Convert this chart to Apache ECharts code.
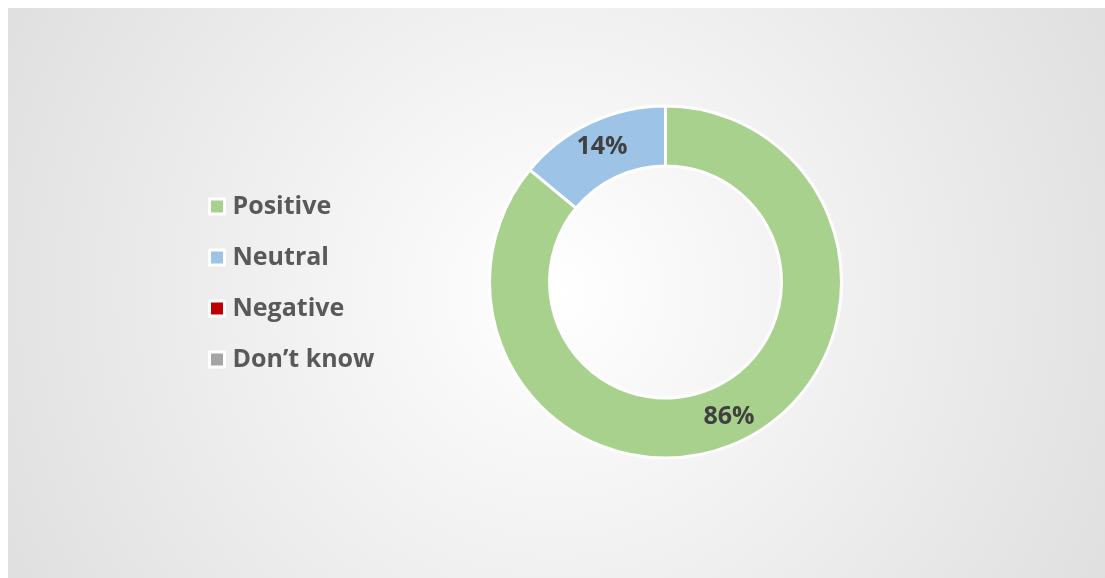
<!DOCTYPE html>
<html>
<head>
<meta charset="utf-8">
<script src="https://cdn.jsdelivr.net/npm/echarts@6/dist/echarts.min.js"></script>
<style>
html,body{margin:0;padding:0;background:#fff;}
#c{width:1105px;height:578px;}
</style>
</head>
<body>
<div id="c"></div>
<script>
const categories = ['Positive', 'Neutral', 'Negative', 'Don\u2019t know'];
const values = [86, 14, 0, 0];
const colors = ['#a9d18e', '#9dc3e6', '#c00000', '#a5a5a5'];

const chart = echarts.init(document.getElementById('c'), null, {renderer: 'canvas'});
const data = categories.map((name, i) => ({name: name, value: values[i], itemStyle: {color: colors[i]}}));

chart.setOption({
  animation: false,
  graphic: [{
    type: 'rect',
    z: -10,
    silent: true,
    shape: {x: 8, y: 8, width: 1097, height: 570},
    style: {
      fill: new echarts.graphic.RadialGradient(0.5, 0.5, 1.1, [
        {offset: 0, color: '#ffffff'},
        {offset: 1, color: '#e0dfe0'}
      ])
    }
  }],
  legend: {
    orient: 'vertical',
    left: 203,
    top: 189,
    itemWidth: 15,
    itemHeight: 15,
    itemGap: 26,
    icon: 'rect',
    selectedMode: false,
    itemStyle: {borderColor: '#ffffff', borderWidth: 3},
    textStyle: {
      fontFamily: 'Open Sans',
      fontWeight: 'bold',
      fontSize: 25,
      color: '#595959',
      padding: [0, 0, 0, 3]
    },
    data: categories
  },
  series: [{
    type: 'pie',
    center: [665.5, 282],
    radius: [116, 176],
    startAngle: 90,
    clockwise: true,
    avoidLabelOverlap: false,
    label: {
      show: true,
      position: 'inside',
      formatter: p => p.value > 0 ? p.value + '%' : '',
      fontFamily: 'Open Sans',
      fontWeight: 'bold',
      fontSize: 25,
      color: '#404040'
    },
    labelLine: {show: false},
    itemStyle: {borderColor: '#ffffff', borderWidth: 3},
    emphasis: {disabled: true},
    data: data
  }]
});
</script>
</body>
</html>
